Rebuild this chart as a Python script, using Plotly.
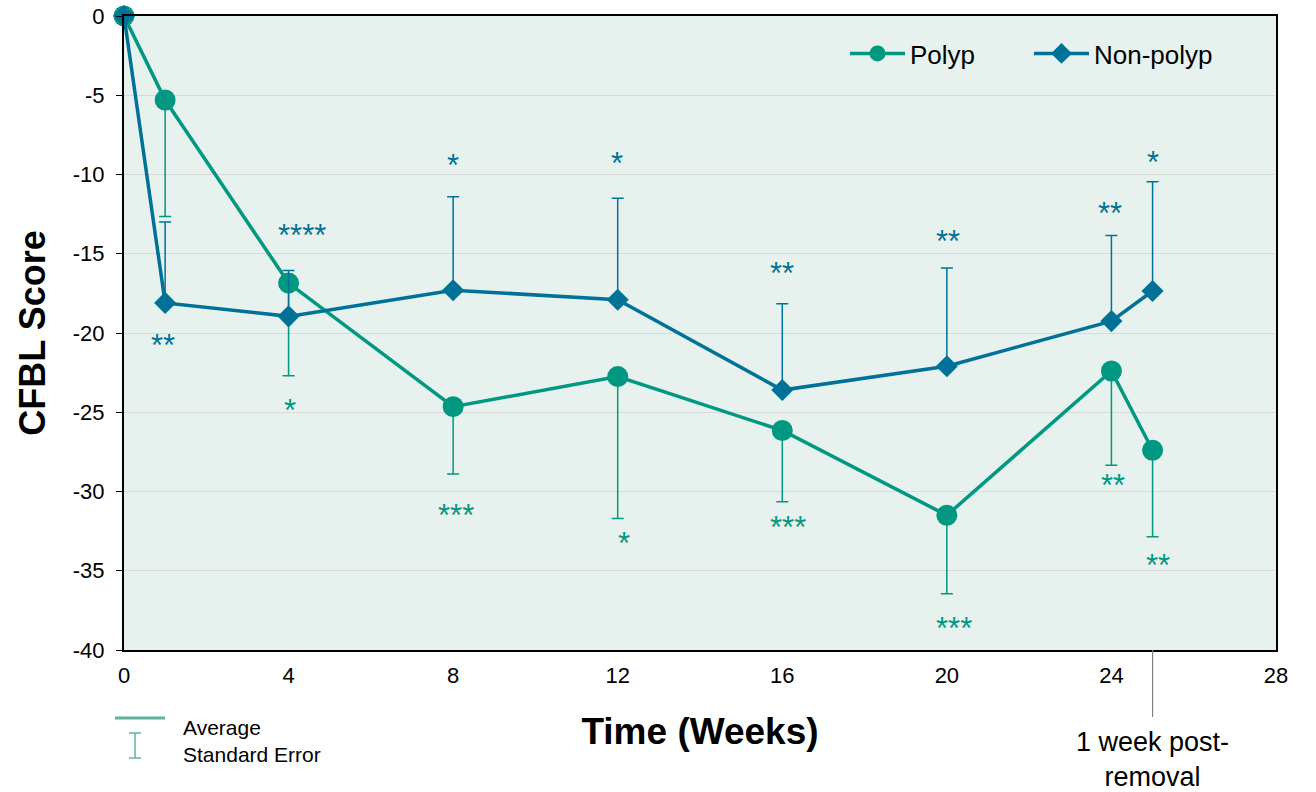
import plotly.graph_objects as go

# ---- data ----
weeks = [0, 1, 4, 8, 12, 16, 20, 24, 25]
polyp = [0, -5.3, -16.85, -24.65, -22.75, -26.15, -31.5, -22.4, -27.4]
polyp_se = [0, 7.35, 5.85, 4.25, 8.95, 4.5, 4.95, 5.95, 5.45]
nonpolyp = [0, -18.1, -18.95, -17.3, -17.9, -23.6, -22.1, -19.25, -17.35]
nonpolyp_se = [0, 5.1, 2.9, 5.9, 6.4, 5.45, 6.2, 5.4, 6.9]

polyp_stars = ["", "", "*", "***", "*", "***", "***", "**", "**"]
polyp_star_x = [0, 1, 4.03, 8.07, 12.15, 16.14, 20.17, 24.05, 25.13]
polyp_star_y = [0, 0, -24.55, -31.15, -32.9, -31.9, -38.3, -29.25, -34.3]
nonpolyp_stars = ["", "**", "****", "*", "*", "**", "**", "**", "*"]
nonpolyp_star_x = [0, 0.95, 4.33, 8.0, 11.98, 16.0, 20.02, 23.97, 25.0]
nonpolyp_star_y = [0, -20.45, -13.5, -9.1, -8.95, -15.9, -13.9, -12.1, -8.9]

y_ticks = [0, -5, -10, -15, -20, -25, -30, -35, -40]
y_tick_labels = ["0", "-5", "-10", "-15", "-20", "-25", "-30", "-35", "-40"]
x_ticks = [0, 4, 8, 12, 16, 20, 24, 28]

GREEN = "rgb(0,152,128)"
BLUE = "rgb(0,114,152)"
FONT = "Liberation Sans, Arial, sans-serif"

W, H = 1316, 792
L, R, T, B = 124, 40, 16, 142
PW, PH = W - L - R, H - T - B


def px(xpix):
    return (xpix - L) / PW


def py(ypix):
    return (H - B - ypix) / PH


fig = go.Figure()

fig.add_trace(go.Scatter(
    x=weeks, y=polyp, name="Polyp", mode="lines+markers",
    line=dict(color=GREEN, width=3.5),
    marker=dict(symbol="circle", size=21, color=GREEN),
    error_y=dict(type="data", symmetric=False,
                 array=[0] * len(polyp_se), arrayminus=polyp_se,
                 color=GREEN, thickness=1.5, width=6),
    cliponaxis=False,
))
fig.add_trace(go.Scatter(
    x=weeks, y=nonpolyp, name="Non-polyp", mode="lines+markers",
    line=dict(color=BLUE, width=3.5),
    marker=dict(symbol="diamond", size=17, color=BLUE),
    error_y=dict(type="data", symmetric=False,
                 array=nonpolyp_se, arrayminus=[0] * len(nonpolyp_se),
                 color=BLUE, thickness=1.5, width=6),
    cliponaxis=False,
))

annotations = []
for sx, sy, s in zip(polyp_star_x, polyp_star_y, polyp_stars):
    if s:
        annotations.append(dict(x=sx, y=sy - 0.35, text=s, showarrow=False,
                                font=dict(family=FONT, size=31, color=GREEN),
                                xanchor="center", yanchor="middle"))
for sx, sy, s in zip(nonpolyp_star_x, nonpolyp_star_y, nonpolyp_stars):
    if s:
        annotations.append(dict(x=sx, y=sy - 0.35, text=s, showarrow=False,
                                font=dict(family=FONT, size=31, color=BLUE),
                                xanchor="center", yanchor="middle"))

# "1 week post-removal" label
annotations.append(dict(x=weeks[-1], xref="x", y=py(725), yref="paper",
                        text="1 week post-<br>removal", showarrow=False,
                        xanchor="center", yanchor="top", align="center",
                        font=dict(family=FONT, size=27, color="black")))
# bottom-left key
annotations.append(dict(x=px(181), y=py(727), xref="paper", yref="paper",
                        text="Average", showarrow=False, xanchor="left", yanchor="middle",
                        font=dict(family=FONT, size=21, color="black")))
annotations.append(dict(x=px(181), y=py(754), xref="paper", yref="paper",
                        text="Standard Error", showarrow=False, xanchor="left", yanchor="middle",
                        font=dict(family=FONT, size=21, color="black")))

KEY = "rgb(100,175,160)"
shapes = [
    dict(type="line", xref="x", yref="paper", x0=weeks[-1], x1=weeks[-1],
         y0=0, y1=py(717), line=dict(color="rgb(128,128,128)", width=1.2)),
    dict(type="line", xref="paper", yref="paper", x0=px(115), x1=px(165),
         y0=py(718), y1=py(718), line=dict(color=KEY, width=3)),
    dict(type="line", xref="paper", yref="paper", x0=px(135), x1=px(135),
         y0=py(733), y1=py(758), line=dict(color=KEY, width=1.5)),
    dict(type="line", xref="paper", yref="paper", x0=px(129), x1=px(141),
         y0=py(733), y1=py(733), line=dict(color=KEY, width=1.5)),
    dict(type="line", xref="paper", yref="paper", x0=px(129), x1=px(141),
         y0=py(758), y1=py(758), line=dict(color=KEY, width=1.5)),
]

fig.update_layout(
    width=W, height=H,
    margin=dict(l=L, r=R, t=T, b=B, autoexpand=False),
    paper_bgcolor="white",
    plot_bgcolor="rgb(231,242,239)",
    font=dict(family=FONT, color="black"),
    showlegend=True,
    legend=dict(orientation="h", x=px(845), y=py(30), xanchor="left", yanchor="top",
                bgcolor="rgba(0,0,0,0)", font=dict(family=FONT, size=26, color="black"),
                itemwidth=55, entrywidth=114, entrywidthmode="pixels"),
    annotations=annotations,
    shapes=shapes,
    xaxis=dict(range=[0, 28], tickvals=x_ticks, showgrid=False, zeroline=False,
               showline=True, linecolor="black", linewidth=2, mirror=True,
               ticks="", tickfont=dict(family=FONT, size=22, color="black"),
               ticklabelstandoff=5, automargin=False,
               title=dict(text="<b>Time (Weeks)</b>", standoff=31,
                          font=dict(family=FONT, size=37, color="black"))),
    yaxis=dict(range=[-40, 0], tickvals=y_ticks, ticktext=y_tick_labels,
               showgrid=True, gridcolor="rgb(217,217,217)", gridwidth=1, zeroline=False,
               showline=True, linecolor="black", linewidth=2, mirror=True,
               ticks="outside", ticklen=6, tickcolor="black",
               tickfont=dict(family=FONT, size=22, color="black"),
               ticklabelstandoff=7, automargin=False,
               title=dict(text="<b>CFBL Score</b>", standoff=16,
                          font=dict(family=FONT, size=36, color="black"))),
)

fig.write_html("out.html", config={"displayModeBar": False},
               post_script="document.body.style.margin='0px';document.body.style.overflow='hidden';")
